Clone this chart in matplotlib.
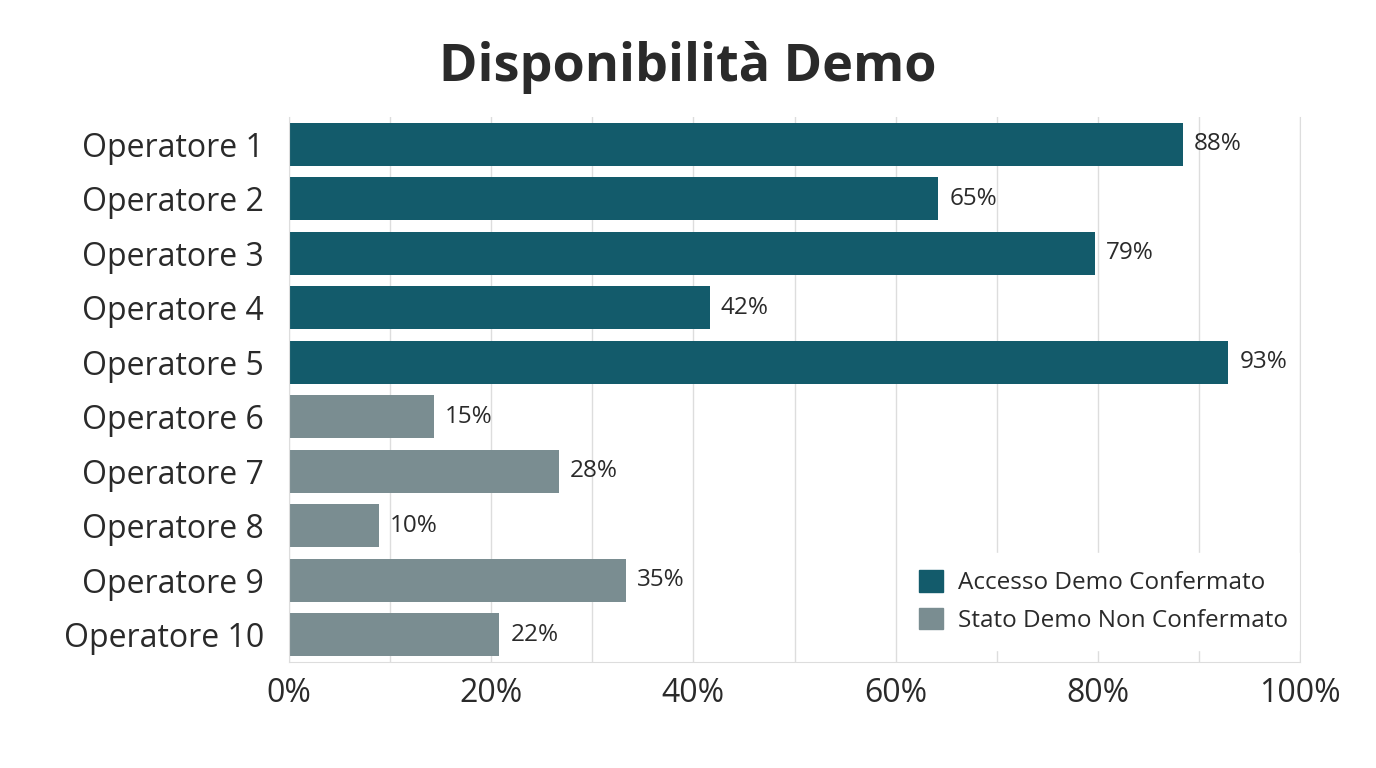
import matplotlib.pyplot as plt
from matplotlib.patches import Patch

plt.rcParams['font.family'] = ['Open Sans', 'DejaVu Sans']

operators = ['Operatore %d' % i for i in range(1, 11)]
# bar lengths as drawn in the picture, and the printed labels
values = [88.4, 64.2, 79.7, 41.6, 92.9, 14.3, 26.7, 8.9, 33.3, 20.8]
labels = ['88%', '65%', '79%', '42%', '93%', '15%', '28%', '10%', '35%', '22%']
confirmed = [True, True, True, True, True, False, False, False, False, False]
legend_labels = ['Accesso Demo Confermato', 'Stato Demo Non Confermato']

dark = '#135b6b'
grey = '#7a8d91'
text_col = '#2a2a2a'

fig = plt.figure(figsize=(13.76, 7.68), dpi=100)
ax = fig.add_axes([0.21, 0.138, 0.7348, 0.7097])
ax.set_axisbelow(True)

colors = [dark if c else grey for c in confirmed]
ax.barh(range(len(operators)), values, height=0.79, color=colors, zorder=2)

for i, v in enumerate(values):
    ax.text(v + 1.1, i, labels[i], va='center', ha='left', fontsize=17.5, color=text_col)

ax.set_xlim(0, 100)
ax.set_ylim(9.5, -0.5)
ax.set_yticks(range(len(operators)))
ax.set_yticklabels(operators, fontsize=23, color=text_col)
ax.set_xticks(range(0, 101, 20))
ax.set_xticklabels(['%d%%' % t for t in range(0, 101, 20)], fontsize=23, color=text_col)
ax.set_xticks(range(0, 101, 10), minor=True)
ax.tick_params(axis='both', which='both', length=0)
ax.tick_params(axis='x', pad=11)
ax.tick_params(axis='y', pad=18)
ax.grid(axis='x', which='both', color='#dddddd', linewidth=1)

ax.spines['top'].set_visible(False)
for s in ['left', 'bottom', 'right']:
    ax.spines[s].set_color('#dddddd')

handles = [Patch(color=dark, label=legend_labels[0]),
           Patch(color=grey, label=legend_labels[1])]
leg = ax.legend(handles=handles, loc='lower right', bbox_to_anchor=(1.017, 0.0),
                fontsize=17.5, frameon=True, framealpha=1, edgecolor='white',
                fancybox=False, handlelength=1.0, handleheight=1.0, labelspacing=0.5,
                handletextpad=0.6, borderpad=0.7)
leg.set_zorder(2.2)
for t in leg.get_texts():
    t.set_color(text_col)

fig.text(0.5, 0.912, 'Disponibilità Demo', ha='center', va='center',
         fontsize=37.5, fontweight='bold', color=text_col)

fig.savefig('out.png', dpi=100, facecolor='white')
